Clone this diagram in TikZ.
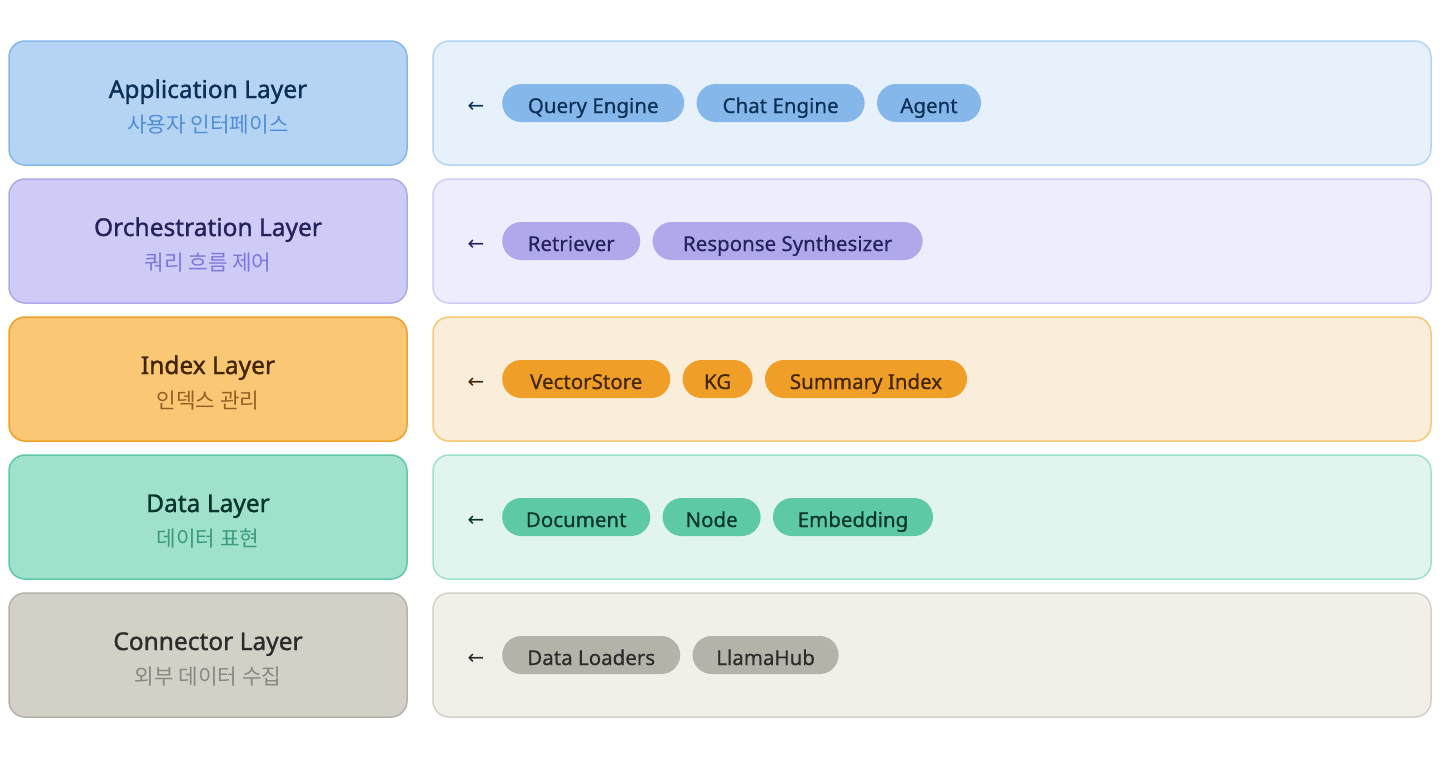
\documentclass[tikz,border=0pt]{standalone}
\usepackage{fontspec}
\setmainfont{Noto Sans}
\newfontfamily\ttlfont[FakeBold=1.2]{Noto Sans}
\newfontfamily\pillfont[FakeBold=0.5]{Noto Sans}
\newfontfamily\krfont{Noto Sans CJK KR}
\newfontfamily\arrfont{DejaVu Sans}
\usetikzlibrary{positioning}
% row 1 blue
\definecolor{aFill}{HTML}{B5D4F4}\definecolor{aLine}{HTML}{85B7EB}\definecolor{aText}{HTML}{0C2F55}\definecolor{aSub}{HTML}{4F8ED6}
\definecolor{aBg}{HTML}{E6F1FB}\definecolor{aBgL}{HTML}{B5D4F4}\definecolor{aPill}{HTML}{85B7EB}
% row 2 purple
\definecolor{bFill}{HTML}{CECBF6}\definecolor{bLine}{HTML}{AFA9EC}\definecolor{bText}{HTML}{26215C}\definecolor{bSub}{HTML}{7F77DD}
\definecolor{bBg}{HTML}{EEEDFE}\definecolor{bBgL}{HTML}{CECBF6}\definecolor{bPill}{HTML}{AFA9EC}
% row 3 orange
\definecolor{cFill}{HTML}{FAC775}\definecolor{cLine}{HTML}{EF9F27}\definecolor{cText}{HTML}{412402}\definecolor{cSub}{HTML}{965F22}
\definecolor{cBg}{HTML}{FAEEDA}\definecolor{cBgL}{HTML}{FAC775}\definecolor{cPill}{HTML}{EF9F27}
% row 4 green
\definecolor{dFill}{HTML}{9FE1CB}\definecolor{dLine}{HTML}{5DCAA5}\definecolor{dText}{HTML}{04342C}\definecolor{dSub}{HTML}{3A9A7E}
\definecolor{dBg}{HTML}{E1F5EE}\definecolor{dBgL}{HTML}{9FE1CB}\definecolor{dPill}{HTML}{5DCAA5}
% row 5 gray
\definecolor{eFill}{HTML}{D3D1C7}\definecolor{eLine}{HTML}{B4B2A9}\definecolor{eText}{HTML}{2C2C2A}\definecolor{eSub}{HTML}{888780}
\definecolor{eBg}{HTML}{F1EFE8}\definecolor{eBgL}{HTML}{D3D1C7}\definecolor{ePill}{HTML}{B4B2A9}
\begin{document}
\begin{tikzpicture}[x=1pt,y=-1pt,
  lbox/.style={draw, line width=1.5pt, rounded corners=16pt, minimum width=398pt, minimum height=124pt, inner sep=0pt},
  rbox/.style={draw, line width=1.5pt, rounded corners=16pt, minimum width=998pt, minimum height=124pt, inner sep=0pt},
  ttl/.style={font=\ttlfont\fontsize{24.5}{28}\selectfont, inner sep=0pt, anchor=base},
  sub/.style={font=\krfont\fontsize{21.3}{24}\selectfont, inner sep=0pt, anchor=base},
  arr/.style={font=\arrfont\fontsize{20}{22}\selectfont, inner sep=0pt},
  pill/.style={rounded corners=19pt, minimum height=38pt, inner sep=0pt, anchor=west,
    text height=20pt, text depth=0pt, font=\pillfont\fontsize{20.5}{24}\selectfont},
  nxt/.style={right=12pt of #1}
]
\useasboundingbox (0,0) rectangle (1440,758);

% ---------- Row 1 ----------
\node[lbox, fill=aFill, draw=aLine] (L1) at (208,103) {};
\node[ttl, text=aText] (T1) at (208,98) {Application Layer};
\node[sub, text=aSub] (S1) at (208,132) {사용자 인터페이스};
\node[rbox, fill=aBg, draw=aBgL] (R1) at (932,103) {};
\node[arr, text=aText] (A1) at (476,107) {←};
\node[pill, fill=aPill, text=aText, minimum width=182pt] (P11) at (502,103) {Query Engine};
\node[pill, fill=aPill, text=aText, minimum width=168pt, nxt=P11] (P12) {Chat Engine};
\node[pill, fill=aPill, text=aText, minimum width=104pt, nxt=P12] (P13) {Agent};

% ---------- Row 2 ----------
\node[lbox, fill=bFill, draw=bLine] (L2) at (208,241) {};
\node[ttl, text=bText] (T2) at (208,236) {Orchestration Layer};
\node[sub, text=bSub] (S2) at (208,270) {쿼리 흐름 제어};
\node[rbox, fill=bBg, draw=bBgL] (R2) at (932,241) {};
\node[arr, text=bText] (A2) at (476,245) {←};
\node[pill, fill=bPill, text=bText, minimum width=138pt] (P21) at (502,241) {Retriever};
\node[pill, fill=bPill, text=bText, minimum width=270pt, nxt=P21] (P22) {Response Synthesizer};

% ---------- Row 3 ----------
\node[lbox, fill=cFill, draw=cLine] (L3) at (208,379) {};
\node[ttl, text=cText] (T3) at (208,374) {Index Layer};
\node[sub, text=cSub] (S3) at (208,408) {인덱스 관리};
\node[rbox, fill=cBg, draw=cBgL] (R3) at (932,379) {};
\node[arr, text=cText] (A3) at (476,383) {←};
\node[pill, fill=cPill, text=cText, minimum width=168pt] (P31) at (502,379) {VectorStore};
\node[pill, fill=cPill, text=cText, minimum width=70pt, nxt=P31] (P32) {KG};
\node[pill, fill=cPill, text=cText, minimum width=202pt, nxt=P32] (P33) {Summary Index};

% ---------- Row 4 ----------
\node[lbox, fill=dFill, draw=dLine] (L4) at (208,517) {};
\node[ttl, text=dText] (T4) at (208,512) {Data Layer};
\node[sub, text=dSub] (S4) at (208,546) {데이터 표현};
\node[rbox, fill=dBg, draw=dBgL] (R4) at (932,517) {};
\node[arr, text=dText] (A4) at (476,521) {←};
\node[pill, fill=dPill, text=dText, minimum width=148pt] (P41) at (502,517) {Document};
\node[pill, fill=dPill, text=dText, minimum width=98pt, nxt=P41] (P42) {Node};
\node[pill, fill=dPill, text=dText, minimum width=160pt, nxt=P42] (P43) {Embedding};

% ---------- Row 5 ----------
\node[lbox, fill=eFill, draw=eLine] (L5) at (208,655) {};
\node[ttl, text=eText] (T5) at (208,650) {Connector Layer};
\node[sub, text=eSub] (S5) at (208,684) {외부 데이터 수집};
\node[rbox, fill=eBg, draw=eBgL] (R5) at (932,655) {};
\node[arr, text=eText] (A5) at (476,659) {←};
\node[pill, fill=ePill, text=eText, minimum width=178pt] (P51) at (502,655) {Data Loaders};
\node[pill, fill=ePill, text=eText, minimum width=146pt, nxt=P51] (P52) {LlamaHub};
\end{tikzpicture}
\end{document}
